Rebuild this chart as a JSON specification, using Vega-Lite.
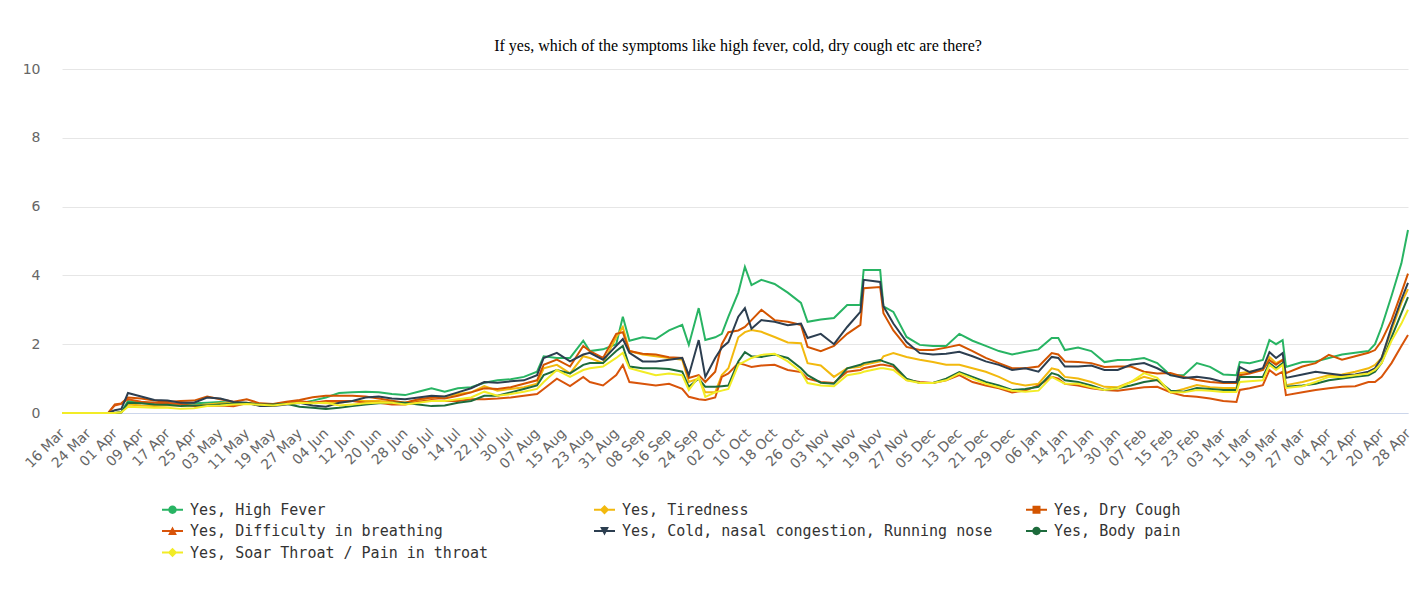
{
"$schema": "https://vega.github.io/schema/vega-lite/v6.json",
"width": 1346,
"height": 344,
"autosize": {"type": "none"},
"padding": {"left": 62, "top": 69, "right": 16, "bottom": 176},
"background": "#ffffff",
"title": {"text": "If yes, which of the symptoms like high fever, cold, dry cough etc are there?", "font": "Liberation Serif", "fontSize": 16, "fontWeight": "normal", "color": "#000000", "anchor": "middle", "frame": "group", "offset": 8, "dx": 3},
"config": {"view": {"stroke": null}},
"data": {"values": [
{"date":"2020-03-16","Yes, High Fever":0,"Yes, Tiredness":0,"Yes, Dry Cough":0,"Yes, Difficulty in breathing":0,"Yes, Cold, nasal congestion, Running nose":0,"Yes, Body pain":0,"Yes, Soar Throat / Pain in throat":0},
{"date":"2020-03-20","Yes, High Fever":0,"Yes, Tiredness":0,"Yes, Dry Cough":0,"Yes, Difficulty in breathing":0,"Yes, Cold, nasal congestion, Running nose":0,"Yes, Body pain":0,"Yes, Soar Throat / Pain in throat":0},
{"date":"2020-03-24","Yes, High Fever":0,"Yes, Tiredness":0,"Yes, Dry Cough":0,"Yes, Difficulty in breathing":0,"Yes, Cold, nasal congestion, Running nose":0,"Yes, Body pain":0,"Yes, Soar Throat / Pain in throat":0},
{"date":"2020-03-28","Yes, High Fever":0,"Yes, Tiredness":0,"Yes, Dry Cough":0,"Yes, Difficulty in breathing":0,"Yes, Cold, nasal congestion, Running nose":0,"Yes, Body pain":0,"Yes, Soar Throat / Pain in throat":0},
{"date":"2020-03-30","Yes, High Fever":0,"Yes, Tiredness":0,"Yes, Dry Cough":0,"Yes, Difficulty in breathing":0,"Yes, Cold, nasal congestion, Running nose":0,"Yes, Body pain":0,"Yes, Soar Throat / Pain in throat":0},
{"date":"2020-04-01","Yes, High Fever":0,"Yes, Tiredness":0,"Yes, Dry Cough":0.25,"Yes, Difficulty in breathing":0.22,"Yes, Cold, nasal congestion, Running nose":0.08,"Yes, Body pain":0,"Yes, Soar Throat / Pain in throat":0},
{"date":"2020-04-03","Yes, High Fever":0.02,"Yes, Tiredness":0.02,"Yes, Dry Cough":0.28,"Yes, Difficulty in breathing":0.27,"Yes, Cold, nasal congestion, Running nose":0.12,"Yes, Body pain":0.02,"Yes, Soar Throat / Pain in throat":0.02},
{"date":"2020-04-05","Yes, High Fever":0.35,"Yes, Tiredness":0.25,"Yes, Dry Cough":0.45,"Yes, Difficulty in breathing":0.4,"Yes, Cold, nasal congestion, Running nose":0.58,"Yes, Body pain":0.3,"Yes, Soar Throat / Pain in throat":0.18},
{"date":"2020-04-09","Yes, High Fever":0.3,"Yes, Tiredness":0.22,"Yes, Dry Cough":0.42,"Yes, Difficulty in breathing":0.33,"Yes, Cold, nasal congestion, Running nose":0.48,"Yes, Body pain":0.28,"Yes, Soar Throat / Pain in throat":0.17},
{"date":"2020-04-13","Yes, High Fever":0.3,"Yes, Tiredness":0.2,"Yes, Dry Cough":0.36,"Yes, Difficulty in breathing":0.3,"Yes, Cold, nasal congestion, Running nose":0.38,"Yes, Body pain":0.25,"Yes, Soar Throat / Pain in throat":0.15},
{"date":"2020-04-17","Yes, High Fever":0.28,"Yes, Tiredness":0.22,"Yes, Dry Cough":0.32,"Yes, Difficulty in breathing":0.28,"Yes, Cold, nasal congestion, Running nose":0.36,"Yes, Body pain":0.24,"Yes, Soar Throat / Pain in throat":0.15},
{"date":"2020-04-21","Yes, High Fever":0.25,"Yes, Tiredness":0.22,"Yes, Dry Cough":0.35,"Yes, Difficulty in breathing":0.26,"Yes, Cold, nasal congestion, Running nose":0.3,"Yes, Body pain":0.2,"Yes, Soar Throat / Pain in throat":0.12},
{"date":"2020-04-25","Yes, High Fever":0.28,"Yes, Tiredness":0.22,"Yes, Dry Cough":0.36,"Yes, Difficulty in breathing":0.2,"Yes, Cold, nasal congestion, Running nose":0.3,"Yes, Body pain":0.22,"Yes, Soar Throat / Pain in throat":0.14},
{"date":"2020-04-29","Yes, High Fever":0.3,"Yes, Tiredness":0.25,"Yes, Dry Cough":0.48,"Yes, Difficulty in breathing":0.2,"Yes, Cold, nasal congestion, Running nose":0.45,"Yes, Body pain":0.22,"Yes, Soar Throat / Pain in throat":0.2},
{"date":"2020-05-03","Yes, High Fever":0.32,"Yes, Tiredness":0.28,"Yes, Dry Cough":0.4,"Yes, Difficulty in breathing":0.22,"Yes, Cold, nasal congestion, Running nose":0.42,"Yes, Body pain":0.25,"Yes, Soar Throat / Pain in throat":0.22},
{"date":"2020-05-07","Yes, High Fever":0.3,"Yes, Tiredness":0.28,"Yes, Dry Cough":0.33,"Yes, Difficulty in breathing":0.2,"Yes, Cold, nasal congestion, Running nose":0.32,"Yes, Body pain":0.27,"Yes, Soar Throat / Pain in throat":0.25},
{"date":"2020-05-11","Yes, High Fever":0.28,"Yes, Tiredness":0.3,"Yes, Dry Cough":0.4,"Yes, Difficulty in breathing":0.28,"Yes, Cold, nasal congestion, Running nose":0.3,"Yes, Body pain":0.28,"Yes, Soar Throat / Pain in throat":0.26},
{"date":"2020-05-15","Yes, High Fever":0.25,"Yes, Tiredness":0.26,"Yes, Dry Cough":0.28,"Yes, Difficulty in breathing":0.25,"Yes, Cold, nasal congestion, Running nose":0.2,"Yes, Body pain":0.25,"Yes, Soar Throat / Pain in throat":0.24},
{"date":"2020-05-19","Yes, High Fever":0.25,"Yes, Tiredness":0.25,"Yes, Dry Cough":0.26,"Yes, Difficulty in breathing":0.25,"Yes, Cold, nasal congestion, Running nose":0.2,"Yes, Body pain":0.25,"Yes, Soar Throat / Pain in throat":0.22},
{"date":"2020-05-23","Yes, High Fever":0.3,"Yes, Tiredness":0.3,"Yes, Dry Cough":0.33,"Yes, Difficulty in breathing":0.3,"Yes, Cold, nasal congestion, Running nose":0.25,"Yes, Body pain":0.27,"Yes, Soar Throat / Pain in throat":0.26},
{"date":"2020-05-27","Yes, High Fever":0.28,"Yes, Tiredness":0.3,"Yes, Dry Cough":0.38,"Yes, Difficulty in breathing":0.35,"Yes, Cold, nasal congestion, Running nose":0.3,"Yes, Body pain":0.18,"Yes, Soar Throat / Pain in throat":0.3},
{"date":"2020-05-31","Yes, High Fever":0.36,"Yes, Tiredness":0.3,"Yes, Dry Cough":0.46,"Yes, Difficulty in breathing":0.3,"Yes, Cold, nasal congestion, Running nose":0.22,"Yes, Body pain":0.15,"Yes, Soar Throat / Pain in throat":0.28},
{"date":"2020-06-04","Yes, High Fever":0.45,"Yes, Tiredness":0.28,"Yes, Dry Cough":0.5,"Yes, Difficulty in breathing":0.35,"Yes, Cold, nasal congestion, Running nose":0.18,"Yes, Body pain":0.12,"Yes, Soar Throat / Pain in throat":0.3},
{"date":"2020-06-08","Yes, High Fever":0.58,"Yes, Tiredness":0.3,"Yes, Dry Cough":0.5,"Yes, Difficulty in breathing":0.35,"Yes, Cold, nasal congestion, Running nose":0.3,"Yes, Body pain":0.15,"Yes, Soar Throat / Pain in throat":0.22},
{"date":"2020-06-12","Yes, High Fever":0.6,"Yes, Tiredness":0.35,"Yes, Dry Cough":0.5,"Yes, Difficulty in breathing":0.35,"Yes, Cold, nasal congestion, Running nose":0.35,"Yes, Body pain":0.2,"Yes, Soar Throat / Pain in throat":0.25},
{"date":"2020-06-16","Yes, High Fever":0.62,"Yes, Tiredness":0.35,"Yes, Dry Cough":0.48,"Yes, Difficulty in breathing":0.3,"Yes, Cold, nasal congestion, Running nose":0.45,"Yes, Body pain":0.25,"Yes, Soar Throat / Pain in throat":0.28},
{"date":"2020-06-20","Yes, High Fever":0.6,"Yes, Tiredness":0.35,"Yes, Dry Cough":0.42,"Yes, Difficulty in breathing":0.3,"Yes, Cold, nasal congestion, Running nose":0.48,"Yes, Body pain":0.28,"Yes, Soar Throat / Pain in throat":0.3},
{"date":"2020-06-24","Yes, High Fever":0.55,"Yes, Tiredness":0.32,"Yes, Dry Cough":0.36,"Yes, Difficulty in breathing":0.25,"Yes, Cold, nasal congestion, Running nose":0.42,"Yes, Body pain":0.3,"Yes, Soar Throat / Pain in throat":0.3},
{"date":"2020-06-28","Yes, High Fever":0.52,"Yes, Tiredness":0.3,"Yes, Dry Cough":0.3,"Yes, Difficulty in breathing":0.25,"Yes, Cold, nasal congestion, Running nose":0.4,"Yes, Body pain":0.3,"Yes, Soar Throat / Pain in throat":0.25},
{"date":"2020-07-02","Yes, High Fever":0.62,"Yes, Tiredness":0.38,"Yes, Dry Cough":0.4,"Yes, Difficulty in breathing":0.33,"Yes, Cold, nasal congestion, Running nose":0.45,"Yes, Body pain":0.25,"Yes, Soar Throat / Pain in throat":0.3},
{"date":"2020-07-06","Yes, High Fever":0.72,"Yes, Tiredness":0.45,"Yes, Dry Cough":0.45,"Yes, Difficulty in breathing":0.38,"Yes, Cold, nasal congestion, Running nose":0.5,"Yes, Body pain":0.2,"Yes, Soar Throat / Pain in throat":0.35},
{"date":"2020-07-10","Yes, High Fever":0.62,"Yes, Tiredness":0.48,"Yes, Dry Cough":0.42,"Yes, Difficulty in breathing":0.35,"Yes, Cold, nasal congestion, Running nose":0.48,"Yes, Body pain":0.22,"Yes, Soar Throat / Pain in throat":0.35},
{"date":"2020-07-14","Yes, High Fever":0.72,"Yes, Tiredness":0.55,"Yes, Dry Cough":0.5,"Yes, Difficulty in breathing":0.35,"Yes, Cold, nasal congestion, Running nose":0.6,"Yes, Body pain":0.3,"Yes, Soar Throat / Pain in throat":0.4},
{"date":"2020-07-18","Yes, High Fever":0.75,"Yes, Tiredness":0.6,"Yes, Dry Cough":0.6,"Yes, Difficulty in breathing":0.4,"Yes, Cold, nasal congestion, Running nose":0.72,"Yes, Body pain":0.35,"Yes, Soar Throat / Pain in throat":0.45},
{"date":"2020-07-22","Yes, High Fever":0.88,"Yes, Tiredness":0.78,"Yes, Dry Cough":0.72,"Yes, Difficulty in breathing":0.4,"Yes, Cold, nasal congestion, Running nose":0.9,"Yes, Body pain":0.5,"Yes, Soar Throat / Pain in throat":0.62},
{"date":"2020-07-26","Yes, High Fever":0.95,"Yes, Tiredness":0.65,"Yes, Dry Cough":0.7,"Yes, Difficulty in breathing":0.42,"Yes, Cold, nasal congestion, Running nose":0.88,"Yes, Body pain":0.5,"Yes, Soar Throat / Pain in throat":0.5},
{"date":"2020-07-30","Yes, High Fever":0.98,"Yes, Tiredness":0.7,"Yes, Dry Cough":0.75,"Yes, Difficulty in breathing":0.45,"Yes, Cold, nasal congestion, Running nose":0.92,"Yes, Body pain":0.6,"Yes, Soar Throat / Pain in throat":0.55},
{"date":"2020-08-03","Yes, High Fever":1.05,"Yes, Tiredness":0.75,"Yes, Dry Cough":0.85,"Yes, Difficulty in breathing":0.5,"Yes, Cold, nasal congestion, Running nose":0.95,"Yes, Body pain":0.7,"Yes, Soar Throat / Pain in throat":0.62},
{"date":"2020-08-07","Yes, High Fever":1.2,"Yes, Tiredness":0.85,"Yes, Dry Cough":0.95,"Yes, Difficulty in breathing":0.55,"Yes, Cold, nasal congestion, Running nose":1.1,"Yes, Body pain":0.8,"Yes, Soar Throat / Pain in throat":0.7},
{"date":"2020-08-09","Yes, High Fever":1.65,"Yes, Tiredness":1.3,"Yes, Dry Cough":1.4,"Yes, Difficulty in breathing":0.7,"Yes, Cold, nasal congestion, Running nose":1.6,"Yes, Body pain":1.1,"Yes, Soar Throat / Pain in throat":0.9},
{"date":"2020-08-13","Yes, High Fever":1.6,"Yes, Tiredness":1.4,"Yes, Dry Cough":1.55,"Yes, Difficulty in breathing":1.0,"Yes, Cold, nasal congestion, Running nose":1.75,"Yes, Body pain":1.25,"Yes, Soar Throat / Pain in throat":1.25},
{"date":"2020-08-17","Yes, High Fever":1.6,"Yes, Tiredness":1.15,"Yes, Dry Cough":1.35,"Yes, Difficulty in breathing":0.78,"Yes, Cold, nasal congestion, Running nose":1.5,"Yes, Body pain":1.15,"Yes, Soar Throat / Pain in throat":1.05},
{"date":"2020-08-21","Yes, High Fever":2.1,"Yes, Tiredness":1.65,"Yes, Dry Cough":1.95,"Yes, Difficulty in breathing":1.05,"Yes, Cold, nasal congestion, Running nose":1.7,"Yes, Body pain":1.4,"Yes, Soar Throat / Pain in throat":1.25},
{"date":"2020-08-23","Yes, High Fever":1.8,"Yes, Tiredness":1.6,"Yes, Dry Cough":1.8,"Yes, Difficulty in breathing":0.9,"Yes, Cold, nasal congestion, Running nose":1.75,"Yes, Body pain":1.45,"Yes, Soar Throat / Pain in throat":1.3},
{"date":"2020-08-27","Yes, High Fever":1.85,"Yes, Tiredness":1.45,"Yes, Dry Cough":1.6,"Yes, Difficulty in breathing":0.8,"Yes, Cold, nasal congestion, Running nose":1.55,"Yes, Body pain":1.45,"Yes, Soar Throat / Pain in throat":1.35},
{"date":"2020-08-31","Yes, High Fever":2.0,"Yes, Tiredness":2.2,"Yes, Dry Cough":2.3,"Yes, Difficulty in breathing":1.1,"Yes, Cold, nasal congestion, Running nose":1.95,"Yes, Body pain":1.8,"Yes, Soar Throat / Pain in throat":1.6},
{"date":"2020-09-02","Yes, High Fever":2.8,"Yes, Tiredness":2.5,"Yes, Dry Cough":2.35,"Yes, Difficulty in breathing":1.4,"Yes, Cold, nasal congestion, Running nose":2.15,"Yes, Body pain":1.95,"Yes, Soar Throat / Pain in throat":1.75},
{"date":"2020-09-04","Yes, High Fever":2.1,"Yes, Tiredness":1.8,"Yes, Dry Cough":1.8,"Yes, Difficulty in breathing":0.9,"Yes, Cold, nasal congestion, Running nose":1.75,"Yes, Body pain":1.35,"Yes, Soar Throat / Pain in throat":1.3},
{"date":"2020-09-08","Yes, High Fever":2.2,"Yes, Tiredness":1.7,"Yes, Dry Cough":1.72,"Yes, Difficulty in breathing":0.85,"Yes, Cold, nasal congestion, Running nose":1.5,"Yes, Body pain":1.3,"Yes, Soar Throat / Pain in throat":1.2},
{"date":"2020-09-12","Yes, High Fever":2.15,"Yes, Tiredness":1.65,"Yes, Dry Cough":1.7,"Yes, Difficulty in breathing":0.8,"Yes, Cold, nasal congestion, Running nose":1.5,"Yes, Body pain":1.3,"Yes, Soar Throat / Pain in throat":1.1},
{"date":"2020-09-16","Yes, High Fever":2.4,"Yes, Tiredness":1.6,"Yes, Dry Cough":1.62,"Yes, Difficulty in breathing":0.85,"Yes, Cold, nasal congestion, Running nose":1.55,"Yes, Body pain":1.28,"Yes, Soar Throat / Pain in throat":1.15},
{"date":"2020-09-20","Yes, High Fever":2.56,"Yes, Tiredness":1.55,"Yes, Dry Cough":1.6,"Yes, Difficulty in breathing":0.7,"Yes, Cold, nasal congestion, Running nose":1.6,"Yes, Body pain":1.2,"Yes, Soar Throat / Pain in throat":1.1},
{"date":"2020-09-22","Yes, High Fever":1.98,"Yes, Tiredness":0.9,"Yes, Dry Cough":1.02,"Yes, Difficulty in breathing":0.47,"Yes, Cold, nasal congestion, Running nose":1.1,"Yes, Body pain":0.76,"Yes, Soar Throat / Pain in throat":0.67},
{"date":"2020-09-25","Yes, High Fever":3.05,"Yes, Tiredness":1.0,"Yes, Dry Cough":1.1,"Yes, Difficulty in breathing":0.4,"Yes, Cold, nasal congestion, Running nose":2.12,"Yes, Body pain":1.0,"Yes, Soar Throat / Pain in throat":1.05},
{"date":"2020-09-27","Yes, High Fever":2.12,"Yes, Tiredness":0.6,"Yes, Dry Cough":0.9,"Yes, Difficulty in breathing":0.38,"Yes, Cold, nasal congestion, Running nose":1.05,"Yes, Body pain":0.76,"Yes, Soar Throat / Pain in throat":0.47},
{"date":"2020-09-30","Yes, High Fever":2.2,"Yes, Tiredness":0.6,"Yes, Dry Cough":1.2,"Yes, Difficulty in breathing":0.45,"Yes, Cold, nasal congestion, Running nose":1.6,"Yes, Body pain":0.76,"Yes, Soar Throat / Pain in throat":0.6},
{"date":"2020-10-02","Yes, High Fever":2.3,"Yes, Tiredness":1.1,"Yes, Dry Cough":2.0,"Yes, Difficulty in breathing":1.05,"Yes, Cold, nasal congestion, Running nose":1.9,"Yes, Body pain":0.78,"Yes, Soar Throat / Pain in throat":0.65},
{"date":"2020-10-04","Yes, High Fever":2.8,"Yes, Tiredness":1.3,"Yes, Dry Cough":2.35,"Yes, Difficulty in breathing":1.15,"Yes, Cold, nasal congestion, Running nose":2.06,"Yes, Body pain":0.8,"Yes, Soar Throat / Pain in throat":0.7},
{"date":"2020-10-07","Yes, High Fever":3.5,"Yes, Tiredness":2.2,"Yes, Dry Cough":2.4,"Yes, Difficulty in breathing":1.45,"Yes, Cold, nasal congestion, Running nose":2.8,"Yes, Body pain":1.5,"Yes, Soar Throat / Pain in throat":1.4},
{"date":"2020-10-09","Yes, High Fever":4.25,"Yes, Tiredness":2.35,"Yes, Dry Cough":2.5,"Yes, Difficulty in breathing":1.4,"Yes, Cold, nasal congestion, Running nose":3.05,"Yes, Body pain":1.77,"Yes, Soar Throat / Pain in throat":1.5},
{"date":"2020-10-11","Yes, High Fever":3.72,"Yes, Tiredness":2.41,"Yes, Dry Cough":2.7,"Yes, Difficulty in breathing":1.34,"Yes, Cold, nasal congestion, Running nose":2.45,"Yes, Body pain":1.65,"Yes, Soar Throat / Pain in throat":1.6},
{"date":"2020-10-14","Yes, High Fever":3.87,"Yes, Tiredness":2.36,"Yes, Dry Cough":3.0,"Yes, Difficulty in breathing":1.38,"Yes, Cold, nasal congestion, Running nose":2.7,"Yes, Body pain":1.63,"Yes, Soar Throat / Pain in throat":1.69},
{"date":"2020-10-18","Yes, High Fever":3.75,"Yes, Tiredness":2.21,"Yes, Dry Cough":2.7,"Yes, Difficulty in breathing":1.4,"Yes, Cold, nasal congestion, Running nose":2.65,"Yes, Body pain":1.7,"Yes, Soar Throat / Pain in throat":1.72},
{"date":"2020-10-22","Yes, High Fever":3.5,"Yes, Tiredness":2.05,"Yes, Dry Cough":2.65,"Yes, Difficulty in breathing":1.25,"Yes, Cold, nasal congestion, Running nose":2.55,"Yes, Body pain":1.6,"Yes, Soar Throat / Pain in throat":1.5},
{"date":"2020-10-26","Yes, High Fever":3.2,"Yes, Tiredness":2.03,"Yes, Dry Cough":2.56,"Yes, Difficulty in breathing":1.19,"Yes, Cold, nasal congestion, Running nose":2.6,"Yes, Body pain":1.3,"Yes, Soar Throat / Pain in throat":1.2},
{"date":"2020-10-28","Yes, High Fever":2.65,"Yes, Tiredness":1.45,"Yes, Dry Cough":1.92,"Yes, Difficulty in breathing":1.0,"Yes, Cold, nasal congestion, Running nose":2.18,"Yes, Body pain":1.1,"Yes, Soar Throat / Pain in throat":0.87},
{"date":"2020-11-01","Yes, High Fever":2.72,"Yes, Tiredness":1.38,"Yes, Dry Cough":1.8,"Yes, Difficulty in breathing":0.9,"Yes, Cold, nasal congestion, Running nose":2.3,"Yes, Body pain":0.88,"Yes, Soar Throat / Pain in throat":0.8},
{"date":"2020-11-05","Yes, High Fever":2.76,"Yes, Tiredness":1.05,"Yes, Dry Cough":1.95,"Yes, Difficulty in breathing":0.87,"Yes, Cold, nasal congestion, Running nose":2.0,"Yes, Body pain":0.85,"Yes, Soar Throat / Pain in throat":0.78},
{"date":"2020-11-09","Yes, High Fever":3.14,"Yes, Tiredness":1.3,"Yes, Dry Cough":2.3,"Yes, Difficulty in breathing":1.2,"Yes, Cold, nasal congestion, Running nose":2.5,"Yes, Body pain":1.3,"Yes, Soar Throat / Pain in throat":1.1},
{"date":"2020-11-13","Yes, High Fever":3.14,"Yes, Tiredness":1.34,"Yes, Dry Cough":2.56,"Yes, Difficulty in breathing":1.25,"Yes, Cold, nasal congestion, Running nose":2.94,"Yes, Body pain":1.4,"Yes, Soar Throat / Pain in throat":1.16},
{"date":"2020-11-14","Yes, High Fever":4.16,"Yes, Tiredness":1.4,"Yes, Dry Cough":3.63,"Yes, Difficulty in breathing":1.3,"Yes, Cold, nasal congestion, Running nose":3.87,"Yes, Body pain":1.45,"Yes, Soar Throat / Pain in throat":1.2},
{"date":"2020-11-19","Yes, High Fever":4.16,"Yes, Tiredness":1.5,"Yes, Dry Cough":3.66,"Yes, Difficulty in breathing":1.4,"Yes, Cold, nasal congestion, Running nose":3.81,"Yes, Body pain":1.54,"Yes, Soar Throat / Pain in throat":1.3},
{"date":"2020-11-20","Yes, High Fever":3.1,"Yes, Tiredness":1.65,"Yes, Dry Cough":2.9,"Yes, Difficulty in breathing":1.4,"Yes, Cold, nasal congestion, Running nose":3.1,"Yes, Body pain":1.5,"Yes, Soar Throat / Pain in throat":1.3},
{"date":"2020-11-23","Yes, High Fever":2.94,"Yes, Tiredness":1.74,"Yes, Dry Cough":2.4,"Yes, Difficulty in breathing":1.35,"Yes, Cold, nasal congestion, Running nose":2.6,"Yes, Body pain":1.4,"Yes, Soar Throat / Pain in throat":1.25},
{"date":"2020-11-27","Yes, High Fever":2.21,"Yes, Tiredness":1.63,"Yes, Dry Cough":1.92,"Yes, Difficulty in breathing":0.96,"Yes, Cold, nasal congestion, Running nose":2.06,"Yes, Body pain":1.0,"Yes, Soar Throat / Pain in throat":0.95},
{"date":"2020-12-01","Yes, High Fever":1.98,"Yes, Tiredness":1.55,"Yes, Dry Cough":1.83,"Yes, Difficulty in breathing":0.9,"Yes, Cold, nasal congestion, Running nose":1.74,"Yes, Body pain":0.87,"Yes, Soar Throat / Pain in throat":0.87},
{"date":"2020-12-05","Yes, High Fever":1.95,"Yes, Tiredness":1.48,"Yes, Dry Cough":1.83,"Yes, Difficulty in breathing":0.87,"Yes, Cold, nasal congestion, Running nose":1.7,"Yes, Body pain":0.87,"Yes, Soar Throat / Pain in throat":0.87},
{"date":"2020-12-09","Yes, High Fever":1.95,"Yes, Tiredness":1.4,"Yes, Dry Cough":1.9,"Yes, Difficulty in breathing":0.95,"Yes, Cold, nasal congestion, Running nose":1.72,"Yes, Body pain":1.0,"Yes, Soar Throat / Pain in throat":0.95},
{"date":"2020-12-13","Yes, High Fever":2.3,"Yes, Tiredness":1.4,"Yes, Dry Cough":1.98,"Yes, Difficulty in breathing":1.1,"Yes, Cold, nasal congestion, Running nose":1.78,"Yes, Body pain":1.19,"Yes, Soar Throat / Pain in throat":1.15},
{"date":"2020-12-17","Yes, High Fever":2.1,"Yes, Tiredness":1.3,"Yes, Dry Cough":1.8,"Yes, Difficulty in breathing":0.9,"Yes, Cold, nasal congestion, Running nose":1.65,"Yes, Body pain":1.05,"Yes, Soar Throat / Pain in throat":1.0},
{"date":"2020-12-21","Yes, High Fever":1.95,"Yes, Tiredness":1.2,"Yes, Dry Cough":1.6,"Yes, Difficulty in breathing":0.8,"Yes, Cold, nasal congestion, Running nose":1.5,"Yes, Body pain":0.9,"Yes, Soar Throat / Pain in throat":0.85},
{"date":"2020-12-25","Yes, High Fever":1.8,"Yes, Tiredness":1.05,"Yes, Dry Cough":1.45,"Yes, Difficulty in breathing":0.72,"Yes, Cold, nasal congestion, Running nose":1.4,"Yes, Body pain":0.8,"Yes, Soar Throat / Pain in throat":0.75},
{"date":"2020-12-29","Yes, High Fever":1.7,"Yes, Tiredness":0.87,"Yes, Dry Cough":1.3,"Yes, Difficulty in breathing":0.6,"Yes, Cold, nasal congestion, Running nose":1.25,"Yes, Body pain":0.67,"Yes, Soar Throat / Pain in throat":0.65},
{"date":"2021-01-02","Yes, High Fever":1.78,"Yes, Tiredness":0.8,"Yes, Dry Cough":1.3,"Yes, Difficulty in breathing":0.65,"Yes, Cold, nasal congestion, Running nose":1.3,"Yes, Body pain":0.7,"Yes, Soar Throat / Pain in throat":0.62},
{"date":"2021-01-06","Yes, High Fever":1.85,"Yes, Tiredness":0.85,"Yes, Dry Cough":1.35,"Yes, Difficulty in breathing":0.8,"Yes, Cold, nasal congestion, Running nose":1.2,"Yes, Body pain":0.76,"Yes, Soar Throat / Pain in throat":0.65},
{"date":"2021-01-10","Yes, High Fever":2.18,"Yes, Tiredness":1.3,"Yes, Dry Cough":1.74,"Yes, Difficulty in breathing":1.05,"Yes, Cold, nasal congestion, Running nose":1.63,"Yes, Body pain":1.16,"Yes, Soar Throat / Pain in throat":1.05},
{"date":"2021-01-12","Yes, High Fever":2.18,"Yes, Tiredness":1.25,"Yes, Dry Cough":1.7,"Yes, Difficulty in breathing":1.0,"Yes, Cold, nasal congestion, Running nose":1.6,"Yes, Body pain":1.1,"Yes, Soar Throat / Pain in throat":0.95},
{"date":"2021-01-14","Yes, High Fever":1.83,"Yes, Tiredness":1.05,"Yes, Dry Cough":1.5,"Yes, Difficulty in breathing":0.85,"Yes, Cold, nasal congestion, Running nose":1.35,"Yes, Body pain":0.95,"Yes, Soar Throat / Pain in throat":0.85},
{"date":"2021-01-18","Yes, High Fever":1.9,"Yes, Tiredness":1.0,"Yes, Dry Cough":1.48,"Yes, Difficulty in breathing":0.8,"Yes, Cold, nasal congestion, Running nose":1.35,"Yes, Body pain":0.9,"Yes, Soar Throat / Pain in throat":0.85},
{"date":"2021-01-22","Yes, High Fever":1.8,"Yes, Tiredness":0.9,"Yes, Dry Cough":1.45,"Yes, Difficulty in breathing":0.72,"Yes, Cold, nasal congestion, Running nose":1.38,"Yes, Body pain":0.8,"Yes, Soar Throat / Pain in throat":0.75},
{"date":"2021-01-26","Yes, High Fever":1.48,"Yes, Tiredness":0.76,"Yes, Dry Cough":1.34,"Yes, Difficulty in breathing":0.67,"Yes, Cold, nasal congestion, Running nose":1.25,"Yes, Body pain":0.67,"Yes, Soar Throat / Pain in throat":0.67},
{"date":"2021-01-30","Yes, High Fever":1.54,"Yes, Tiredness":0.75,"Yes, Dry Cough":1.35,"Yes, Difficulty in breathing":0.65,"Yes, Cold, nasal congestion, Running nose":1.25,"Yes, Body pain":0.72,"Yes, Soar Throat / Pain in throat":0.72},
{"date":"2021-02-03","Yes, High Fever":1.55,"Yes, Tiredness":0.9,"Yes, Dry Cough":1.35,"Yes, Difficulty in breathing":0.7,"Yes, Cold, nasal congestion, Running nose":1.4,"Yes, Body pain":0.8,"Yes, Soar Throat / Pain in throat":0.9},
{"date":"2021-02-07","Yes, High Fever":1.6,"Yes, Tiredness":1.05,"Yes, Dry Cough":1.2,"Yes, Difficulty in breathing":0.75,"Yes, Cold, nasal congestion, Running nose":1.45,"Yes, Body pain":0.9,"Yes, Soar Throat / Pain in throat":1.16},
{"date":"2021-02-11","Yes, High Fever":1.45,"Yes, Tiredness":0.95,"Yes, Dry Cough":1.15,"Yes, Difficulty in breathing":0.76,"Yes, Cold, nasal congestion, Running nose":1.3,"Yes, Body pain":0.96,"Yes, Soar Throat / Pain in throat":1.02},
{"date":"2021-02-15","Yes, High Fever":1.1,"Yes, Tiredness":0.6,"Yes, Dry Cough":1.16,"Yes, Difficulty in breathing":0.6,"Yes, Cold, nasal congestion, Running nose":1.1,"Yes, Body pain":0.65,"Yes, Soar Throat / Pain in throat":0.6},
{"date":"2021-02-19","Yes, High Fever":1.1,"Yes, Tiredness":0.7,"Yes, Dry Cough":1.05,"Yes, Difficulty in breathing":0.5,"Yes, Cold, nasal congestion, Running nose":1.02,"Yes, Body pain":0.62,"Yes, Soar Throat / Pain in throat":0.6},
{"date":"2021-02-23","Yes, High Fever":1.45,"Yes, Tiredness":0.81,"Yes, Dry Cough":0.96,"Yes, Difficulty in breathing":0.47,"Yes, Cold, nasal congestion, Running nose":1.05,"Yes, Body pain":0.73,"Yes, Soar Throat / Pain in throat":0.67},
{"date":"2021-02-27","Yes, High Fever":1.34,"Yes, Tiredness":0.75,"Yes, Dry Cough":0.9,"Yes, Difficulty in breathing":0.42,"Yes, Cold, nasal congestion, Running nose":1.0,"Yes, Body pain":0.7,"Yes, Soar Throat / Pain in throat":0.65},
{"date":"2021-03-03","Yes, High Fever":1.12,"Yes, Tiredness":0.73,"Yes, Dry Cough":0.87,"Yes, Difficulty in breathing":0.35,"Yes, Cold, nasal congestion, Running nose":0.9,"Yes, Body pain":0.67,"Yes, Soar Throat / Pain in throat":0.61},
{"date":"2021-03-07","Yes, High Fever":1.1,"Yes, Tiredness":0.73,"Yes, Dry Cough":0.87,"Yes, Difficulty in breathing":0.32,"Yes, Cold, nasal congestion, Running nose":0.9,"Yes, Body pain":0.67,"Yes, Soar Throat / Pain in throat":0.61},
{"date":"2021-03-08","Yes, High Fever":1.48,"Yes, Tiredness":1.16,"Yes, Dry Cough":1.1,"Yes, Difficulty in breathing":0.67,"Yes, Cold, nasal congestion, Running nose":1.34,"Yes, Body pain":1.05,"Yes, Soar Throat / Pain in throat":0.9},
{"date":"2021-03-11","Yes, High Fever":1.45,"Yes, Tiredness":1.2,"Yes, Dry Cough":1.15,"Yes, Difficulty in breathing":0.72,"Yes, Cold, nasal congestion, Running nose":1.19,"Yes, Body pain":1.05,"Yes, Soar Throat / Pain in throat":0.92},
{"date":"2021-03-15","Yes, High Fever":1.54,"Yes, Tiredness":1.25,"Yes, Dry Cough":1.25,"Yes, Difficulty in breathing":0.81,"Yes, Cold, nasal congestion, Running nose":1.3,"Yes, Body pain":1.05,"Yes, Soar Throat / Pain in throat":0.95},
{"date":"2021-03-17","Yes, High Fever":2.12,"Yes, Tiredness":1.63,"Yes, Dry Cough":1.54,"Yes, Difficulty in breathing":1.25,"Yes, Cold, nasal congestion, Running nose":1.77,"Yes, Body pain":1.45,"Yes, Soar Throat / Pain in throat":1.4},
{"date":"2021-03-19","Yes, High Fever":2.0,"Yes, Tiredness":1.45,"Yes, Dry Cough":1.4,"Yes, Difficulty in breathing":1.1,"Yes, Cold, nasal congestion, Running nose":1.6,"Yes, Body pain":1.3,"Yes, Soar Throat / Pain in throat":1.25},
{"date":"2021-03-21","Yes, High Fever":2.12,"Yes, Tiredness":1.55,"Yes, Dry Cough":1.54,"Yes, Difficulty in breathing":1.2,"Yes, Cold, nasal congestion, Running nose":1.74,"Yes, Body pain":1.45,"Yes, Soar Throat / Pain in throat":1.4},
{"date":"2021-03-22","Yes, High Fever":1.34,"Yes, Tiredness":0.81,"Yes, Dry Cough":1.16,"Yes, Difficulty in breathing":0.52,"Yes, Cold, nasal congestion, Running nose":1.02,"Yes, Body pain":0.76,"Yes, Soar Throat / Pain in throat":0.73},
{"date":"2021-03-27","Yes, High Fever":1.48,"Yes, Tiredness":0.9,"Yes, Dry Cough":1.35,"Yes, Difficulty in breathing":0.6,"Yes, Cold, nasal congestion, Running nose":1.12,"Yes, Body pain":0.8,"Yes, Soar Throat / Pain in throat":0.78},
{"date":"2021-03-31","Yes, High Fever":1.5,"Yes, Tiredness":1.0,"Yes, Dry Cough":1.45,"Yes, Difficulty in breathing":0.67,"Yes, Cold, nasal congestion, Running nose":1.2,"Yes, Body pain":0.85,"Yes, Soar Throat / Pain in throat":0.9},
{"date":"2021-04-04","Yes, High Fever":1.6,"Yes, Tiredness":1.1,"Yes, Dry Cough":1.69,"Yes, Difficulty in breathing":0.72,"Yes, Cold, nasal congestion, Running nose":1.15,"Yes, Body pain":0.95,"Yes, Soar Throat / Pain in throat":1.05},
{"date":"2021-04-08","Yes, High Fever":1.7,"Yes, Tiredness":1.12,"Yes, Dry Cough":1.55,"Yes, Difficulty in breathing":0.76,"Yes, Cold, nasal congestion, Running nose":1.1,"Yes, Body pain":1.0,"Yes, Soar Throat / Pain in throat":1.05},
{"date":"2021-04-12","Yes, High Fever":1.75,"Yes, Tiredness":1.2,"Yes, Dry Cough":1.65,"Yes, Difficulty in breathing":0.78,"Yes, Cold, nasal congestion, Running nose":1.12,"Yes, Body pain":1.05,"Yes, Soar Throat / Pain in throat":1.1},
{"date":"2021-04-16","Yes, High Fever":1.8,"Yes, Tiredness":1.3,"Yes, Dry Cough":1.75,"Yes, Difficulty in breathing":0.9,"Yes, Cold, nasal congestion, Running nose":1.2,"Yes, Body pain":1.1,"Yes, Soar Throat / Pain in throat":1.15},
{"date":"2021-04-18","Yes, High Fever":2.0,"Yes, Tiredness":1.4,"Yes, Dry Cough":1.83,"Yes, Difficulty in breathing":0.9,"Yes, Cold, nasal congestion, Running nose":1.3,"Yes, Body pain":1.2,"Yes, Soar Throat / Pain in throat":1.25},
{"date":"2021-04-20","Yes, High Fever":2.5,"Yes, Tiredness":1.6,"Yes, Dry Cough":2.1,"Yes, Difficulty in breathing":1.05,"Yes, Cold, nasal congestion, Running nose":1.6,"Yes, Body pain":1.45,"Yes, Soar Throat / Pain in throat":1.45},
{"date":"2021-04-23","Yes, High Fever":3.4,"Yes, Tiredness":2.4,"Yes, Dry Cough":2.7,"Yes, Difficulty in breathing":1.45,"Yes, Cold, nasal congestion, Running nose":2.5,"Yes, Body pain":2.2,"Yes, Soar Throat / Pain in throat":2.1},
{"date":"2021-04-26","Yes, High Fever":4.35,"Yes, Tiredness":3.2,"Yes, Dry Cough":3.5,"Yes, Difficulty in breathing":1.95,"Yes, Cold, nasal congestion, Running nose":3.3,"Yes, Body pain":2.9,"Yes, Soar Throat / Pain in throat":2.6},
{"date":"2021-04-28","Yes, High Fever":5.32,"Yes, Tiredness":3.6,"Yes, Dry Cough":4.05,"Yes, Difficulty in breathing":2.27,"Yes, Cold, nasal congestion, Running nose":3.78,"Yes, Body pain":3.37,"Yes, Soar Throat / Pain in throat":3.0}
]},
"transform": [{"fold": ["Yes, High Fever","Yes, Tiredness","Yes, Dry Cough","Yes, Difficulty in breathing","Yes, Cold, nasal congestion, Running nose","Yes, Body pain","Yes, Soar Throat / Pain in throat"], "as": ["series","value"]}],
"encoding": {
 "x": {"field": "date", "type": "temporal",
  "scale": {"type": "utc", "domain": [{"year":2020,"month":"Mar","date":16,"utc":true},{"year":2021,"month":"Apr","date":28,"utc":true}]},
  "axis": {"title": null, "format": "%d %b", "labelAngle": -45, "labelAlign": "right", "labelBaseline": "middle", "labelPadding": 18, "labelFont": "DejaVu Sans", "labelFontSize": 14, "labelColor": "#666666", "ticks": false, "domainColor": "#ccd6eb", "domainWidth": 1, "grid": false, "labelOverlap": false, "labelFlush": false, "labelBound": false,
   "values": [
    {"year":2020,"month":"Mar","date":16,"utc":true},{"year":2020,"month":"Mar","date":24,"utc":true},{"year":2020,"month":"Apr","date":1,"utc":true},{"year":2020,"month":"Apr","date":9,"utc":true},{"year":2020,"month":"Apr","date":17,"utc":true},{"year":2020,"month":"Apr","date":25,"utc":true},{"year":2020,"month":"May","date":3,"utc":true},{"year":2020,"month":"May","date":11,"utc":true},{"year":2020,"month":"May","date":19,"utc":true},{"year":2020,"month":"May","date":27,"utc":true},{"year":2020,"month":"Jun","date":4,"utc":true},{"year":2020,"month":"Jun","date":12,"utc":true},{"year":2020,"month":"Jun","date":20,"utc":true},{"year":2020,"month":"Jun","date":28,"utc":true},{"year":2020,"month":"Jul","date":6,"utc":true},{"year":2020,"month":"Jul","date":14,"utc":true},{"year":2020,"month":"Jul","date":22,"utc":true},{"year":2020,"month":"Jul","date":30,"utc":true},{"year":2020,"month":"Aug","date":7,"utc":true},{"year":2020,"month":"Aug","date":15,"utc":true},{"year":2020,"month":"Aug","date":23,"utc":true},{"year":2020,"month":"Aug","date":31,"utc":true},{"year":2020,"month":"Sep","date":8,"utc":true},{"year":2020,"month":"Sep","date":16,"utc":true},{"year":2020,"month":"Sep","date":24,"utc":true},{"year":2020,"month":"Oct","date":2,"utc":true},{"year":2020,"month":"Oct","date":10,"utc":true},{"year":2020,"month":"Oct","date":18,"utc":true},{"year":2020,"month":"Oct","date":26,"utc":true},{"year":2020,"month":"Nov","date":3,"utc":true},{"year":2020,"month":"Nov","date":11,"utc":true},{"year":2020,"month":"Nov","date":19,"utc":true},{"year":2020,"month":"Nov","date":27,"utc":true},{"year":2020,"month":"Dec","date":5,"utc":true},{"year":2020,"month":"Dec","date":13,"utc":true},{"year":2020,"month":"Dec","date":21,"utc":true},{"year":2020,"month":"Dec","date":29,"utc":true},{"year":2021,"month":"Jan","date":6,"utc":true},{"year":2021,"month":"Jan","date":14,"utc":true},{"year":2021,"month":"Jan","date":22,"utc":true},{"year":2021,"month":"Jan","date":30,"utc":true},{"year":2021,"month":"Feb","date":7,"utc":true},{"year":2021,"month":"Feb","date":15,"utc":true},{"year":2021,"month":"Feb","date":23,"utc":true},{"year":2021,"month":"Mar","date":3,"utc":true},{"year":2021,"month":"Mar","date":11,"utc":true},{"year":2021,"month":"Mar","date":19,"utc":true},{"year":2021,"month":"Mar","date":27,"utc":true},{"year":2021,"month":"Apr","date":4,"utc":true},{"year":2021,"month":"Apr","date":12,"utc":true},{"year":2021,"month":"Apr","date":20,"utc":true},{"year":2021,"month":"Apr","date":28,"utc":true}
   ]}},
 "y": {"field": "value", "type": "quantitative", "scale": {"domain": [0, 10]},
  "axis": {"title": null, "values": [0,2,4,6,8,10], "domain": false, "ticks": false, "labelPadding": 22, "gridColor": "#e6e6e6", "labelFont": "DejaVu Sans", "labelFontSize": 14, "labelColor": "#666666"}}
},
"layer": [
 {"transform": [{"filter": "datum.value < -100"}],
  "mark": {"type": "point", "filled": true, "opacity": 1, "strokeWidth": 0},
  "encoding": {
   "color": {"field": "series", "type": "nominal",
    "scale": {"domain": ["Yes, High Fever","Yes, Tiredness","Yes, Dry Cough","Yes, Difficulty in breathing","Yes, Cold, nasal congestion, Running nose","Yes, Body pain","Yes, Soar Throat / Pain in throat"],
              "range": ["#28b463","#f2b90e","#d35400","#d8540a","#2c3e50","#1d6b3c","#f2ec26"]},
    "legend": {"title": null, "orient": "none", "legendX": 100, "legendY": 430, "direction": "horizontal", "columns": 3, "gridAlign": "all", "columnPadding": 33, "rowPadding": 2.5, "padding": 0, "symbolSize": 441, "symbolStrokeWidth": 0, "symbolOpacity": 1, "labelOffset": 7, "labelFont": "DejaVu Sans Mono", "labelFontSize": 15, "labelColor": "#333333", "labelLimit": 0}},
   "shape": {"field": "series", "type": "nominal",
    "scale": {"domain": ["Yes, High Fever","Yes, Tiredness","Yes, Dry Cough","Yes, Difficulty in breathing","Yes, Cold, nasal congestion, Running nose","Yes, Body pain","Yes, Soar Throat / Pain in throat"],
              "range": [
               "M-1,-0.1H1V0.1H-1Z M-0.4,0A0.4,0.4 0 1,1 0.4,0A0.4,0.4 0 1,1 -0.4,0Z",
               "M-1,-0.1H1V0.1H-1Z M0,-0.45L0.45,0L0,0.45L-0.45,0Z",
               "M-1,-0.1H1V0.1H-1Z M-0.38,-0.38H0.38V0.38H-0.38Z",
               "M-1,-0.1H1V0.1H-1Z M0,-0.42L0.42,0.38H-0.42Z",
               "M-1,-0.1H1V0.1H-1Z M0,0.42L-0.42,-0.38H0.42Z",
               "M-1,-0.1H1V0.1H-1Z M-0.4,0A0.4,0.4 0 1,1 0.4,0A0.4,0.4 0 1,1 -0.4,0Z",
               "M-1,-0.1H1V0.1H-1Z M0,-0.45L0.45,0L0,0.45L-0.45,0Z"]},
    "legend": {"title": null, "orient": "none", "legendX": 100, "legendY": 430, "direction": "horizontal", "columns": 3, "gridAlign": "all", "columnPadding": 33, "rowPadding": 2.5, "padding": 0, "symbolSize": 441, "symbolStrokeWidth": 0, "symbolOpacity": 1, "labelOffset": 7, "labelFont": "DejaVu Sans Mono", "labelFontSize": 15, "labelColor": "#333333", "labelLimit": 0}}
  }},
 {"mark": {"type": "line", "strokeWidth": 2, "interpolate": "linear"},
  "encoding": {"color": {"field": "series", "type": "nominal",
   "scale": {"domain": ["Yes, High Fever","Yes, Tiredness","Yes, Dry Cough","Yes, Difficulty in breathing","Yes, Cold, nasal congestion, Running nose","Yes, Body pain","Yes, Soar Throat / Pain in throat"],
             "range": ["#28b463","#f2b90e","#d35400","#d8540a","#2c3e50","#1d6b3c","#f2ec26"]}}}}
]
}
